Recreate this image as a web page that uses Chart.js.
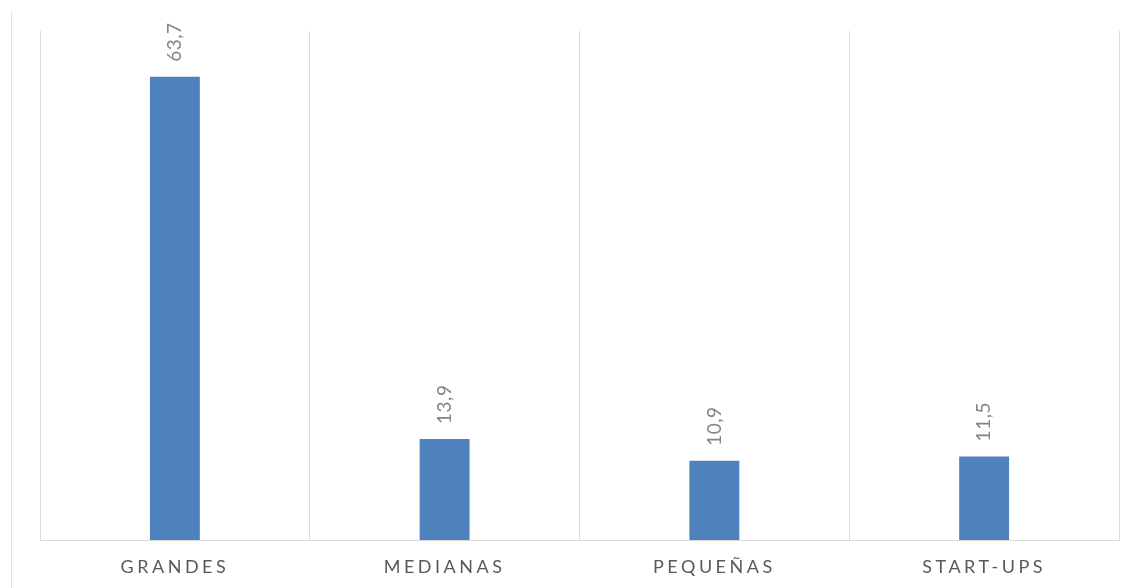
<!DOCTYPE html>
<html>
<head>
<meta charset="utf-8">
<script src="https://cdn.jsdelivr.net/npm/chart.js@4/dist/chart.umd.min.js"></script>
<style>
  html, body { margin: 0; padding: 0; background: #fff; }
  #wrap { position: relative; width: 1136px; height: 588px; }
  #frame { position: absolute; left: 11px; top: 12px; width: 1px; height: 576px; background: #e3e3e3; }
</style>
</head>
<body>
<div id="wrap">
  <div id="frame"></div>
  <canvas id="chart_canvas" width="1136" height="588"></canvas>
</div>
<script>
var categories = ['GRANDES', 'MEDIANAS', 'PEQUEÑAS', 'START-UPS'];
var values = [63.7, 13.9, 10.9, 11.5];

// letter spacing for the category labels, none for the rest
var spacingPlugin = {
  id: 'spacing',
  beforeDraw: function(chart){ chart.ctx.letterSpacing = '3.5px'; },
  beforeDatasetsDraw: function(chart){ chart.ctx.letterSpacing = '0px'; }
};

// rotated value labels above each bar
var valueLabels = {
  id: 'valueLabels',
  afterDatasetsDraw: function(chart){
    var ctx = chart.ctx;
    var meta = chart.getDatasetMeta(0);
    ctx.save();
    ctx.letterSpacing = '0.5px';
    ctx.fillStyle = '#858585';
    ctx.font = '19px Lato, "Open Sans", sans-serif';
    ctx.textAlign = 'left';
    ctx.textBaseline = 'middle';
    meta.data.forEach(function(bar, i){
      ctx.save();
      ctx.translate(bar.x, bar.y - 15);
      ctx.rotate(-Math.PI / 2);
      ctx.fillText(values[i].toFixed(1).replace('.', ','), 0, 0);
      ctx.restore();
    });
    ctx.restore();
  }
};

var ctx = document.getElementById('chart_canvas').getContext('2d');
window.bar_chart = new Chart(ctx, {
  type: 'bar',
  data: {
    labels: categories,
    datasets: [{
      data: values,
      backgroundColor: '#4f81bd',
      borderWidth: 0,
      categoryPercentage: 1,
      barPercentage: 0.185
    }]
  },
  options: {
    responsive: false,
    animation: false,
    layout: { padding: { left: 40, top: 31, right: 17, bottom: 0 } },
    plugins: { legend: { display: false }, tooltip: { enabled: false } },
    scales: {
      x: {
        offset: true,
        grid: { offset: true, color: '#d9d9d9', lineWidth: 1, drawTicks: false },
        border: { color: '#d9d9d9', width: 1 },
        ticks: { color: '#595959', padding: 16, font: { family: 'Lato, "Open Sans", sans-serif', size: 18 } },
        afterFit: function(scale){ scale.height = 48; }
      },
      y: {
        display: false,
        min: 0,
        max: 70
      }
    }
  },
  plugins: [spacingPlugin, valueLabels]
});
</script>
</body>
</html>
